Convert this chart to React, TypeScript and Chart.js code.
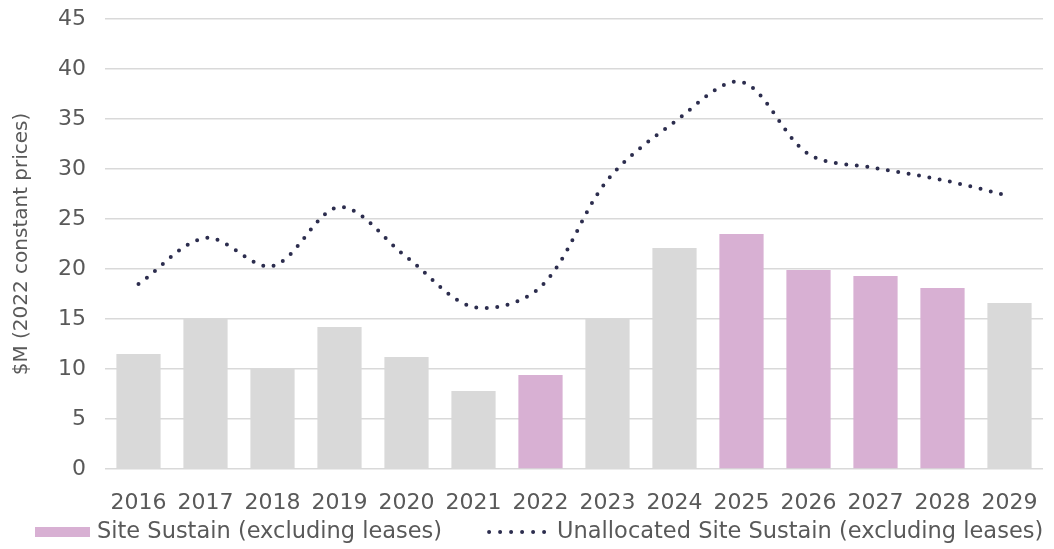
import React, { useEffect, useRef } from "react";
import { Chart, registerables } from "chart.js";

Chart.register(...registerables);

const years = ["2016", "2017", "2018", "2019", "2020", "2021", "2022", "2023", "2024", "2025", "2026", "2027", "2028", "2029"];
const siteSustain = [11.5, 15.0, 10.0, 14.2, 11.2, 7.8, 9.4, 15.1, 22.1, 23.5, 19.9, 19.3, 18.1, 16.6];
const highlighted = [false, false, false, false, false, false, true, false, false, true, true, true, true, false];
const unallocated = [18.5, 23.1, 20.3, 26.2, 21.2, 16.2, 18.2, 28.9, 34.7, 38.7, 31.5, 30.1, 28.9, 27.3];
const yTicks = [0, 5, 10, 15, 20, 25, 30, 35, 40, 45];

const barLabel = "Site Sustain (excluding leases)";
const lineLabel = "Unallocated Site Sustain (excluding leases)";
const yTitle = "$M (2022 constant prices)";

const PINK = "rgb(216,176,211)";
const GREY = "rgb(217,217,217)";
const NAVY = "#2c2d4e";
const TEXT = "#595959";
const FONT = "'DejaVu Sans', sans-serif";

// Legend drawn on the chart canvas, below the x axis
const bottomLegend = {
  id: "bottomLegend",
  afterDraw(chart: any) {
    const ctx = chart.ctx as CanvasRenderingContext2D;
    const y = 532;
    ctx.save();
    ctx.font = `22.5px ${FONT}`;
    ctx.textBaseline = "middle";
    ctx.textAlign = "left";
    // item 1: pink box
    ctx.fillStyle = PINK;
    ctx.fillRect(35, y - 5, 55, 10);
    ctx.fillStyle = TEXT;
    ctx.fillText(barLabel, 97, y);
    // item 2: dotted line
    const w2 = ctx.measureText(lineLabel).width;
    const tx = Math.min(1049 - w2, 97 + ctx.measureText(barLabel).width + 115);
    ctx.strokeStyle = NAVY;
    ctx.lineWidth = 4;
    ctx.lineCap = "round";
    ctx.setLineDash([0, 11]);
    ctx.beginPath();
    ctx.moveTo(tx - 68, y);
    ctx.lineTo(tx - 4, y);
    ctx.stroke();
    ctx.setLineDash([]);
    ctx.fillStyle = TEXT;
    ctx.fillText(lineLabel, tx, y);
    ctx.restore();
  },
};

export default function App() {
  const ref = useRef<HTMLCanvasElement | null>(null);

  useEffect(() => {
    if (!ref.current) return;
    const chart = new Chart(ref.current, {
      type: "bar",
      data: {
        labels: years,
        datasets: [
          {
            type: "line",
            label: lineLabel,
            data: unallocated,
            borderColor: NAVY,
            backgroundColor: "transparent",
            borderWidth: 4,
            borderDash: [0, 10.5],
            borderCapStyle: "round",
            tension: 0.33,
            pointRadius: 0,
            fill: false,
            order: 0,
          },
          {
            type: "bar",
            label: barLabel,
            data: siteSustain,
            backgroundColor: highlighted.map((h) => (h ? PINK : GREY)),
            borderWidth: 0,
            barPercentage: 0.66,
            categoryPercentage: 1,
            order: 1,
          },
        ],
      },
      options: {
        animation: false,
        responsive: false,
        maintainAspectRatio: false,
        layout: { padding: { left: 0, right: 11, top: 19, bottom: 36 } },
        plugins: {
          tooltip: { enabled: false },
          legend: { display: false },
        },
        scales: {
          x: {
            grid: { display: true, color: "transparent", drawOnChartArea: false, drawTicks: true, tickLength: 21, tickColor: "transparent" },
            border: { display: false },
            ticks: { color: TEXT, font: { family: FONT, size: 22 }, padding: 0, maxRotation: 0, autoSkip: false },
            afterFit: (scale: any) => {
              scale.height = 44;
            },
          },
          y: {
            min: 0,
            max: 45,
            afterBuildTicks: (scale: any) => {
              scale.ticks = yTicks.map((v) => ({ value: v }));
            },
            grid: { color: GREY, lineWidth: 1.5, drawTicks: true, tickLength: 19, tickColor: "transparent" },
            border: { display: false },
            ticks: { color: TEXT, font: { family: FONT, size: 22 }, padding: 0 },
            title: {
              display: true,
              text: yTitle,
              color: TEXT,
              font: { family: FONT, size: 20 },
              padding: { top: 10, bottom: 0 },
            },
            afterFit: (scale: any) => {
              scale.width = 105;
            },
          },
        },
      },
      plugins: [bottomLegend],
    });
    return () => chart.destroy();
  }, []);

  return (
    <div style={{ position: "absolute", left: 0, top: 0, width: 1054, height: 549, background: "#fff" }}>
      <canvas ref={ref} width={1054} height={549} style={{ display: "block", width: 1054, height: 549 }} />
    </div>
  );
}
